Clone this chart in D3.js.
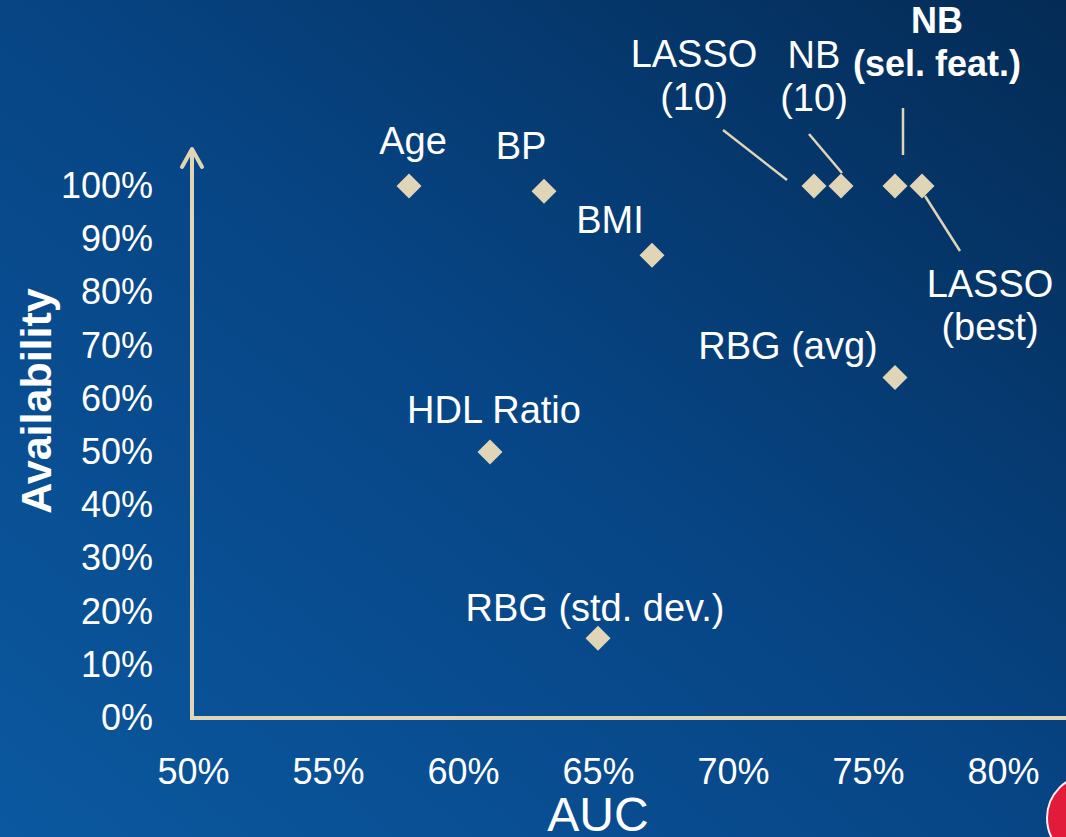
<!DOCTYPE html>
<html>
<head>
<meta charset="utf-8">
<script src="https://cdn.jsdelivr.net/npm/d3@7"></script>
<style>
  html, body { margin: 0; padding: 0; background: #06407a; }
  svg { display: block; font-family: "Liberation Sans", Arial, Helvetica, sans-serif; }
</style>
</head>
<body>
<svg id="chart" width="1066" height="837"></svg>
<script>
// models / predictors plotted as AUC vs. availability
const names = ['Age', 'BP', 'BMI', 'HDL Ratio', 'RBG (std. dev.)', 'RBG (avg)',
  'LASSO (10)', 'NB (10)', 'NB (sel. feat.)', 'LASSO (best)'];
const auc = [0.58, 0.63, 0.67, 0.61, 0.65, 0.76, 0.73, 0.74, 0.76, 0.77];
const availability = [1.00, 0.99, 0.87, 0.50, 0.15, 0.64, 1.00, 1.00, 1.00, 1.00];

const xTicks = [0.50, 0.55, 0.60, 0.65, 0.70, 0.75, 0.80];
const yTicks = [0, 0.1, 0.2, 0.3, 0.4, 0.5, 0.6, 0.7, 0.8, 0.9, 1.0];

// label placement relative to each point (px): text lines, offset, optional leader line
const labelLayout = {
  'Age': { lines: ['Age'], dx: 4, dy: -32 },
  'BP': { lines: ['BP'], dx: -23, dy: -32 },
  'BMI': { lines: ['BMI'], dx: -42, dy: -22 },
  'HDL Ratio': { lines: ['HDL Ratio'], dx: 4, dy: -29 },
  'RBG (std. dev.)': { lines: ['RBG (std. dev.)'], dx: -3, dy: -17 },
  'RBG (avg)': { lines: ['RBG (avg)'], dx: -107, dy: -19 },
  'LASSO (10)': { lines: ['LASSO', '(10)'], dx: -120, dy: -119, leader: [-91, -56, -27, -6] },
  'NB (10)': { lines: ['NB', '(10)'], dx: -27, dy: -118, leader: [-32, -52, 1, -13] },
  'NB (sel. feat.)': { lines: ['NB', '(sel. feat.)'], dx: 42, dy: -153, bold: true, leader: [8, -78, 8, -31] },
  'LASSO (best)': { lines: ['LASSO', '(best)'], dx: 68, dy: 111, leader: [3, 10, 38, 65] }
};

const W = 1066, H = 837;
const cream = '#e0d5b6';
const svg = d3.select('#chart');

// background gradient
const defs = svg.append('defs');
const grad = defs.append('linearGradient').attr('id', 'bg')
  .attr('x1', '0%').attr('y1', '100%').attr('x2', '100%').attr('y2', '0%');
grad.append('stop').attr('offset', '0%').attr('stop-color', '#0b58a0');
grad.append('stop').attr('offset', '50%').attr('stop-color', '#074585');
grad.append('stop').attr('offset', '100%').attr('stop-color', '#042b55');
svg.append('rect').attr('width', W).attr('height', H).attr('fill', 'url(#bg)');

const x = d3.scaleLinear().domain([0.5, 0.8]).range([193, 1003]);
const y = d3.scaleLinear().domain([0, 1]).range([718, 186]);
const pct = d3.format('.0%');

// axes tick labels
const xAxis = svg.append('g').attr('transform', 'translate(0,772)')
  .call(d3.axisBottom(x).tickValues(xTicks).tickFormat(pct).tickSize(0).tickPadding(0));
const yAxis = svg.append('g').attr('transform', 'translate(153,0)')
  .call(d3.axisLeft(y).tickValues(yTicks).tickFormat(pct).tickSize(0).tickPadding(0));
[xAxis, yAxis].forEach(a => {
  a.select('.domain').remove();
  a.selectAll('text').attr('fill', '#ffffff').style('font-size', '36px')
    .style('font-family', '"Liberation Sans", Arial, sans-serif');
});
xAxis.selectAll('text').attr('dy', '0.32em');

// axis lines
svg.append('line').attr('x1', 192).attr('y1', 718).attr('x2', W).attr('y2', 718)
  .attr('stroke', cream).attr('stroke-width', 4);
svg.append('line').attr('x1', 192).attr('y1', 720).attr('x2', 192).attr('y2', 149)
  .attr('stroke', cream).attr('stroke-width', 4);
svg.append('path').attr('d', 'M182,167 L192,149 L202,167')
  .attr('fill', 'none').attr('stroke', cream).attr('stroke-width', 4)
  .attr('stroke-linecap', 'round').attr('stroke-linejoin', 'round');

// axis titles
svg.append('text').attr('x', 598).attr('y', 831).attr('text-anchor', 'middle')
  .attr('fill', '#fff').style('font-size', '48px').text('AUC');
svg.append('text').attr('transform', 'translate(51,401) rotate(-90)').attr('text-anchor', 'middle')
  .attr('fill', '#fff').style('font-size', '43px').style('font-weight', 'bold').text('Availability');

const pts = names.map((n, i) => ({ name: n, auc: auc[i], av: availability[i], lay: labelLayout[n] }));

// leader lines
svg.append('g').selectAll('line').data(pts.filter(d => d.lay.leader)).join('line')
  .attr('x1', d => x(d.auc) + d.lay.leader[0]).attr('y1', d => y(d.av) + d.lay.leader[1])
  .attr('x2', d => x(d.auc) + d.lay.leader[2]).attr('y2', d => y(d.av) + d.lay.leader[3])
  .attr('stroke', cream).attr('stroke-width', 2.5);

// diamonds
svg.append('g').selectAll('path').data(pts).join('path')
  .attr('transform', d => `translate(${x(d.auc)},${y(d.av)})`)
  .attr('d', 'M0,-12.5 L12.5,0 L0,12.5 L-12.5,0 Z')
  .attr('fill', cream);

// point labels
const labels = svg.append('g').selectAll('text').data(pts).join('text')
  .attr('text-anchor', 'middle').attr('fill', '#fff')
  .style('font-size', d => d.lay.bold ? '36px' : '38px')
  .style('font-weight', d => d.lay.bold ? 'bold' : 'normal');
labels.each(function (d) {
  const t = d3.select(this);
  d.lay.lines.forEach((line, i) => {
    t.append('tspan').attr('x', x(d.auc) + d.lay.dx)
      .attr('y', y(d.av) + d.lay.dy + i * 43).text(line);
  });
});

// corner logo (partially visible)
svg.append('circle').attr('cx', 1090).attr('cy', 818).attr('r', 43)
  .attr('fill', '#e31b3b').attr('stroke', '#f4f4f4').attr('stroke-width', 2);
</script>
</body>
</html>
